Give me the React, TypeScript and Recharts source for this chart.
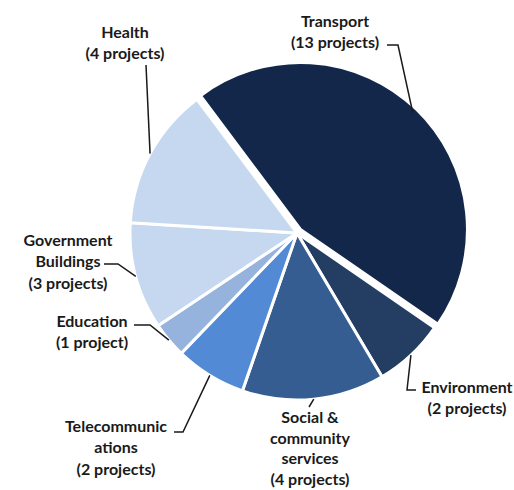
import React from 'react';
import { PieChart, Pie, Cell } from 'recharts';

// Projects by sector, clockwise from Transport
const sectors = [
  'Transport',
  'Environment',
  'Social & community services',
  'Telecommunications',
  'Education',
  'Government Buildings',
  'Health',
];
const projects = [13, 2, 4, 2, 1, 3, 4];
const labelLines = [
  ['Transport', '(13 projects)'],
  ['Environment', '(2 projects)'],
  ['Social &', 'community', 'services', '(4 projects)'],
  ['Telecommunic', 'ations', '(2 projects)'],
  ['Education', '(1 project)'],
  ['Government', 'Buildings', '(3 projects)'],
  ['Health', '(4 projects)'],
];

const colors = ['#13274a', '#243e63', '#365d91', '#538ad6', '#95b3dc', '#c6d8f0', '#c6d8f0'];

// label placement: text centre x, first baseline y, line gap, leader elbow points
const labelLayout = [
  { x: 335, y: 27, gap: 21.3, leader: [[398, 45], [387, 45]] },
  { x: 467, y: 393, gap: 21.3, leader: [[407, 390], [416, 390]] },
  { x: 310, y: 423, gap: 20.7, leader: [[309, 407]] },
  { x: 116, y: 432, gap: 21.3, leader: [[183, 432], [174, 432]] },
  { x: 92, y: 327, gap: 21.3, leader: [[150, 325], [134, 325]] },
  { x: 68, y: 246, gap: 21.3, leader: [[118, 264], [104, 264]] },
  { x: 125, y: 38, gap: 21.3, leader: [[146, 65]] },
];

const data = sectors.map((name, i) => ({ name, value: projects[i] }));

const RADIAN = Math.PI / 180;
const CX = 292;
const CY = 228;
const R = 167;
const START = 126.8;
const EXPLODE = 5;

const renderLabel = (props: any) => {
  const { cx, cy, midAngle, outerRadius, index } = props;
  const lay = labelLayout[index];
  const ex = cx + outerRadius * Math.cos(-midAngle * RADIAN);
  const ey = cy + outerRadius * Math.sin(-midAngle * RADIAN);
  const pts = [[ex, ey], ...lay.leader].map((p) => p.join(',')).join(' ');
  return (
    <g key={`lbl-${index}`}>
      <polyline points={pts} fill="none" stroke="#1a1a1a" strokeWidth={1.5} />
      <text
        x={lay.x}
        y={lay.y}
        textAnchor="middle"
        fontFamily="Lato, 'Open Sans', sans-serif"
        fontWeight={700}
        fontSize={16}
        fill="#1a1a1a"
      >
        {labelLines[index].map((line, j) => (
          <tspan key={j} x={lay.x} dy={j === 0 ? 0 : lay.gap}>
            {line}
          </tspan>
        ))}
      </text>
    </g>
  );
};

export default function App() {
  const dx = EXPLODE * Math.cos((START - (projects[0] / 29) * 180) * RADIAN);
  const dy = -EXPLODE * Math.sin((START - (projects[0] / 29) * 180) * RADIAN);
  return (
    <div style={{ position: 'absolute', left: 0, top: 0, background: '#fff' }}>
      <PieChart width={514} height={490}>
        <Pie
          data={data}
          dataKey="value"
          cx={CX}
          cy={CY}
          outerRadius={R}
          startAngle={START}
          endAngle={START - 360}
          stroke="#ffffff"
          strokeWidth={3}
          label={renderLabel}
          labelLine={false}
          isAnimationActive={false}
        >
          {data.map((entry, i) => (
            <Cell
              key={`c-${i}`}
              fill={i === 0 ? 'none' : colors[i]}
              stroke={i === 0 ? 'none' : '#ffffff'}
            />
          ))}
        </Pie>
        <Pie
          data={data}
          dataKey="value"
          cx={CX + dx}
          cy={CY + dy}
          outerRadius={R}
          startAngle={START}
          endAngle={START - 360}
          stroke="#ffffff"
          strokeWidth={3}
          isAnimationActive={false}
        >
          {data.map((entry, i) => (
            <Cell
              key={`t-${i}`}
              fill={i === 0 ? colors[0] : 'none'}
              stroke={i === 0 ? '#ffffff' : 'none'}
            />
          ))}
        </Pie>
      </PieChart>
    </div>
  );
}
